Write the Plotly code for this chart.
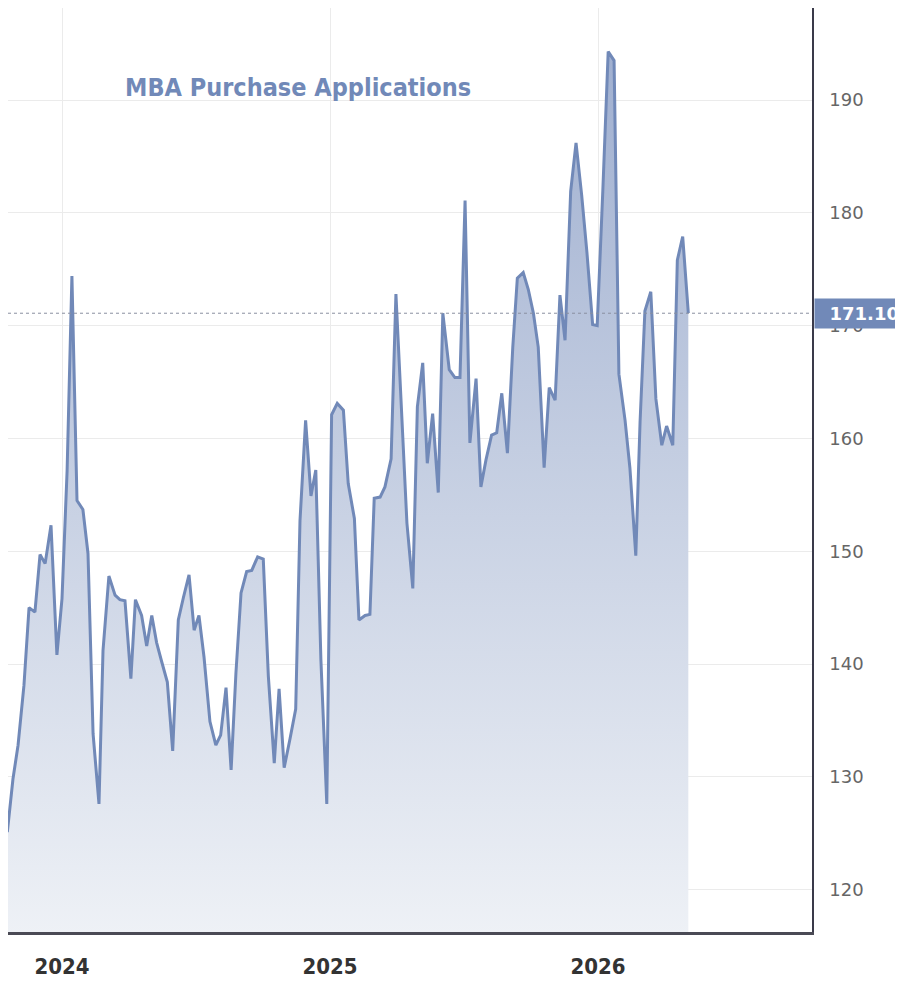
import plotly.graph_objects as go

t_years = [
    2023.777, 2023.796, 2023.817, 2023.836, 2023.858, 2023.877, 2023.899, 2023.918, 2023.937, 2023.959,
    2023.981, 2024.000, 2024.019, 2024.037, 2024.056, 2024.078, 2024.097, 2024.116, 2024.138, 2024.153,
    2024.175, 2024.198, 2024.216, 2024.235, 2024.257, 2024.274, 2024.297, 2024.316, 2024.335, 2024.353,
    2024.372, 2024.393, 2024.413, 2024.434, 2024.453, 2024.474, 2024.493, 2024.511, 2024.530, 2024.552,
    2024.574, 2024.592, 2024.612, 2024.631, 2024.649, 2024.668, 2024.689, 2024.708, 2024.730, 2024.751,
    2024.770, 2024.792, 2024.810, 2024.829, 2024.851, 2024.872, 2024.888, 2024.909, 2024.929, 2024.947,
    2024.966, 2024.988, 2025.006, 2025.027, 2025.050, 2025.068, 2025.091, 2025.108, 2025.131, 2025.149,
    2025.165, 2025.187, 2025.205, 2025.228, 2025.246, 2025.269, 2025.287, 2025.309, 2025.326, 2025.346,
    2025.363, 2025.383, 2025.404, 2025.421, 2025.445, 2025.466, 2025.485, 2025.504, 2025.522, 2025.545,
    2025.563, 2025.582, 2025.603, 2025.622, 2025.641, 2025.662, 2025.682, 2025.699, 2025.721, 2025.740,
    2025.759, 2025.777, 2025.799, 2025.818, 2025.840, 2025.858, 2025.877, 2025.898, 2025.918, 2025.939,
    2025.959, 2025.980, 2025.997, 2026.018, 2026.038, 2026.060, 2026.078, 2026.101, 2026.119, 2026.141,
    2026.157, 2026.175, 2026.197, 2026.216, 2026.238, 2026.256, 2026.279, 2026.296, 2026.316, 2026.337,
]
purchase_index = [
    128.0, 125.1, 129.8, 132.8, 138.1, 145.0, 144.6, 149.7, 148.9, 152.3,
    140.8, 145.8, 157.1, 174.4, 154.5, 153.7, 149.8, 133.8, 127.6, 141.2,
    147.8, 146.1, 145.7, 145.6, 138.7, 145.7, 144.3, 141.6, 144.3, 141.9,
    140.2, 138.4, 132.3, 143.9, 145.9, 147.9, 143.0, 144.3, 140.6, 134.9,
    132.8, 133.7, 137.9, 130.6, 139.2, 146.3, 148.2, 148.3, 149.5, 149.3,
    138.9, 131.2, 137.8, 130.8, 133.4, 136.0, 152.7, 161.6, 154.9, 157.2,
    140.4, 127.6, 162.1, 163.1, 162.5, 156.0, 152.9, 143.9, 144.3, 144.4,
    154.7, 154.8, 155.7, 158.2, 172.8, 161.8, 152.5, 146.7, 162.8, 166.7,
    157.8, 162.2, 155.2, 171.1, 166.1, 165.4, 165.4, 181.1, 159.6, 165.3,
    155.7, 158.1, 160.3, 160.5, 164.0, 158.7, 168.1, 174.2, 174.7, 173.2,
    171.1, 168.1, 157.4, 164.5, 163.4, 172.7, 168.7, 181.9, 186.2, 181.6,
    176.4, 170.1, 170.0, 182.0, 194.3, 193.5, 165.7, 161.6, 157.4, 149.6,
    161.5, 171.3, 173.0, 163.5, 159.4, 161.1, 159.4, 175.8, 177.9, 171.1,
]
year_ticks = [2024, 2025, 2026]
year_labels = ["2024", "2025", "2026"]
y_ticks = [120, 130, 140, 150, 160, 170, 180, 190]
last_value = 171.10
title_text = "MBA Purchase Applications"

LINE = "#7189b8"

fig = go.Figure()
fig.add_trace(go.Scatter(
    x=t_years, y=purchase_index, mode="lines",
    line=dict(color=LINE, width=3),
    fill="tozeroy",
    fillgradient=dict(type="vertical", start=116, stop=196,
                      colorscale=[[0, "rgb(238,241,246)"], [1, "rgb(158,174,207)"]]),
    hoverinfo="skip", showlegend=False,
))

fig.add_shape(type="line", xref="paper", x0=0, x1=1.0, yref="y", y0=last_value, y1=last_value,
              line=dict(color="#8a8fa0", width=1, dash="dot"), layer="above")

fig.add_annotation(xref="paper", x=1.0, xanchor="left", xshift=2, yref="y", y=last_value,
                   text="%.2f" % last_value, showarrow=False, bgcolor=LINE,
                   font=dict(family="DejaVu Sans", size=18, color="white", weight="bold"),
                   borderpad=4, width=80, align="right")

fig.add_annotation(xref="paper", x=0.1430, xanchor="left", yref="paper", y=0.9145, yanchor="middle",
                   text=title_text, showarrow=False,
                   font=dict(family="DejaVu Sans Condensed, DejaVu Sans", size=25, color=LINE, weight="bold"))

fig.update_layout(
    width=895, height=974,
    margin=dict(l=0, r=91, t=0, b=50, autoexpand=False),
    paper_bgcolor="white", plot_bgcolor="white",
    xaxis=dict(range=[2023.7985, 2026.7985], tickvals=year_ticks, ticktext=year_labels,
               showgrid=True, gridcolor="#ebebeb", gridwidth=1, zeroline=False,
               showline=True, linecolor="#4a4a55", linewidth=2.5,
               ticks="", ticklabelstandoff=13, automargin=False,
               tickfont=dict(family="Liberation Sans Narrow, DejaVu Sans Condensed", size=22,
                             color="#333333", weight="bold")),
    yaxis=dict(side="right", range=[116.24, 198.16], tickvals=y_ticks,
               showgrid=True, gridcolor="#ebebeb", gridwidth=1, zeroline=False,
               showline=True, linecolor="#3a3a4a", linewidth=1.5,
               ticks="", ticklabelstandoff=12, automargin=False,
               tickfont=dict(family="DejaVu Sans", size=18, color="#666666")),
)

fig.write_html("out.html")
